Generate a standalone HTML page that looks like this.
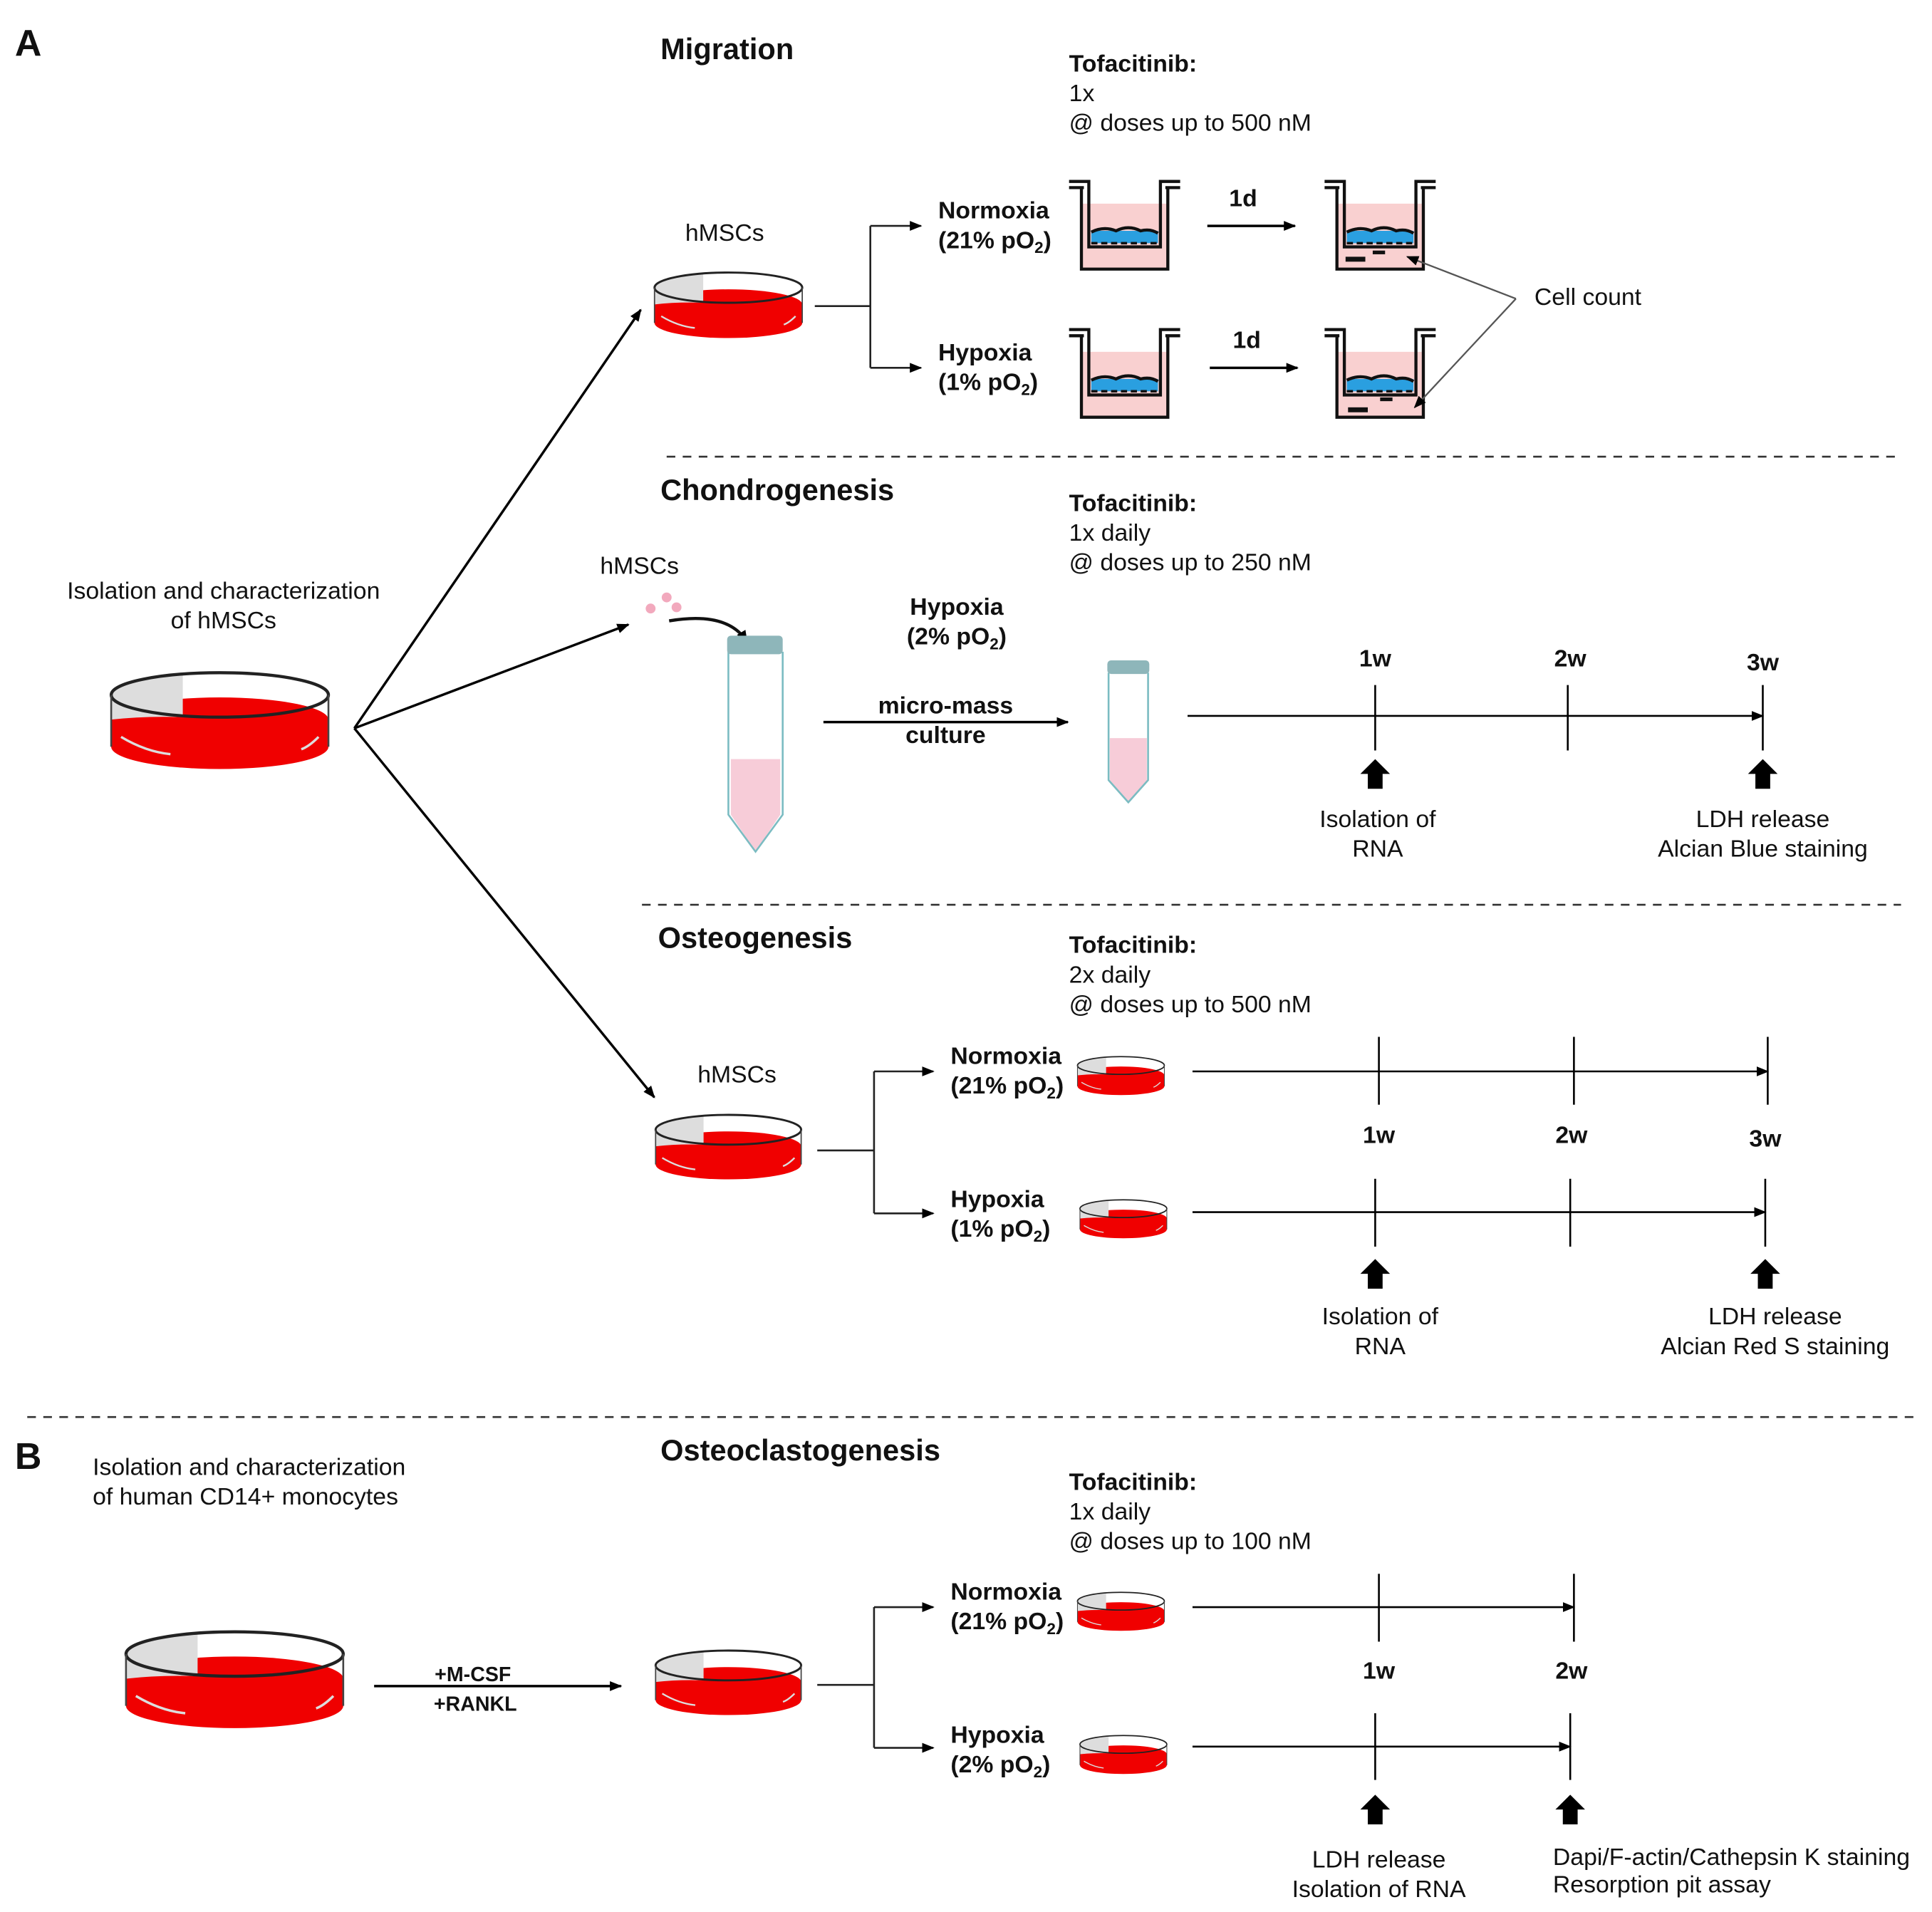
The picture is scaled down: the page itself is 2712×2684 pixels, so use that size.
<!DOCTYPE html>
<html><head><meta charset="utf-8"><style>
html,body{margin:0;padding:0;background:#fff;}
svg{display:block;}
text{font-family:"Liberation Sans",Arial,sans-serif;fill:#111;}
.b{font-weight:bold;}
.h{font-size:24px;font-weight:bold;}
.t{font-size:19.5px;}
</style></head><body>
<svg width="2712" height="2684" viewBox="0 0 1565 1549" xmlns="http://www.w3.org/2000/svg">
<defs>
<marker id="ar" markerWidth="10" markerHeight="10" refX="9" refY="5" orient="auto" markerUnits="userSpaceOnUse"><path d="M0,1 L10,5 L0,9 Z" fill="#000"/></marker>
<g id="dish">
 <path d="M-88,-2 A88 18 0 0 1 88,-2 L88,20 A88 18 0 0 1 -88,20 Z" fill="#f00000"/>
 <path d="M-88,-22 A88 18 0 0 1 -30,-39 L-30,-4 A88 18 0 0 0 -88,-2 Z" fill="#ddd"/>
 <ellipse cx="0" cy="-22" rx="88" ry="18" fill="none" stroke="#222" stroke-width="2.5"/>
 <path d="M-88,-22 V20 M88,-22 V20" stroke="#444" stroke-width="1.5"/>
 <path d="M-80,12 Q-60,24 -40,26 M80,12 Q72,20 66,22" stroke="#ddd" stroke-width="2" fill="none"/>
</g>
<g id="tw">
 <path d="M6,20 V73 H76 V20 Z" fill="#f9d0d0"/>
 <rect x="14" y="42" width="54" height="10" fill="#2a9fe0"/>
 <path d="M6,8 V73 H76 V8" fill="none" stroke="#111" stroke-width="2.5"/>
 <path d="M-4,2 H12 V55 H70 V2 H86 M-4,7 H8 M74,7 H86" fill="none" stroke="#111" stroke-width="2.5"/>
 <path d="M14,52 H68" stroke="#111" stroke-width="2" stroke-dasharray="5,3"/>
 <path d="M14,43 Q24,38 34,42 Q44,37 54,42 Q62,40 68,44" stroke="#111" stroke-width="2.5" fill="none"/>
</g>
<g id="up"><path d="M0,0 L-12,12 L-6,12 L-6,24 L6,24 L6,12 L12,12 Z" fill="#000"/></g>
</defs>

<text x="12" y="45" style="font-size:30px" class="b">A</text>
<text x="12" y="1190" style="font-size:30px" class="b">B</text>

<text x="535" y="48" class="h">Migration</text>
<text x="535" y="405" class="h">Chondrogenesis</text>
<text x="533" y="768" class="h">Osteogenesis</text>
<text x="535" y="1183" class="h">Osteoclastogenesis</text>

<g class="t">
<text x="866" y="58" class="b">Tofacitinib:</text><text x="866" y="82">1x</text><text x="866" y="106">@ doses up to 500 nM</text>
<text x="866" y="414" class="b">Tofacitinib:</text><text x="866" y="438">1x daily</text><text x="866" y="462">@ doses up to 250 nM</text>
<text x="866" y="772" class="b">Tofacitinib:</text><text x="866" y="796">2x daily</text><text x="866" y="820">@ doses up to 500 nM</text>
<text x="866" y="1207" class="b">Tofacitinib:</text><text x="866" y="1231">1x daily</text><text x="866" y="1255">@ doses up to 100 nM</text>
</g>

<g stroke="#333" stroke-width="1.5" stroke-dasharray="7,6">
<line x1="540" y1="370" x2="1540" y2="370"/><line x1="520" y1="733" x2="1540" y2="733"/><line x1="22" y1="1148" x2="1552" y2="1148"/>
</g>

<text x="181" y="485" class="t" text-anchor="middle">Isolation and characterization</text>
<text x="181" y="509" class="t" text-anchor="middle">of hMSCs</text>
<use href="#dish" transform="translate(178,585)"/>
<g stroke="#000" stroke-width="2" marker-end="url(#ar)">
<line x1="287" y1="590" x2="519" y2="251"/>
<line x1="287" y1="590" x2="509" y2="506"/>
<line x1="287" y1="590" x2="530" y2="889"/>
</g>

<text x="587" y="195" class="t" text-anchor="middle">hMSCs</text>
<use href="#dish" transform="translate(590,248) scale(0.68)"/>
<g stroke="#222" stroke-width="1.5" fill="none"><path d="M660,248 H705 M705,183 V298"/></g>
<g stroke="#222" stroke-width="1.5" marker-end="url(#ar)"><line x1="705" y1="183" x2="746" y2="183"/><line x1="705" y1="298" x2="746" y2="298"/></g>
<text x="760" y="177" class="t b">Normoxia</text><text x="760" y="201" class="t b">(21% pO<tspan style="font-size:13px" dy="4">2</tspan><tspan dy="-4">)</tspan></text>
<text x="760" y="292" class="t b">Hypoxia</text><text x="760" y="316" class="t b">(1% pO<tspan style="font-size:13px" dy="4">2</tspan><tspan dy="-4">)</tspan></text>
<use href="#tw" transform="translate(870,145)"/>
<use href="#tw" transform="translate(1077,145)"/>
<use href="#tw" transform="translate(870,265)"/>
<use href="#tw" transform="translate(1077,265)"/>
<g fill="#111"><rect x="1090" y="208" width="16" height="4"/><rect x="1112" y="203" width="10" height="3"/><rect x="1092" y="330" width="16" height="4"/><rect x="1118" y="322" width="10" height="3"/></g>
<g stroke="#000" stroke-width="2" marker-end="url(#ar)"><line x1="978" y1="183" x2="1049" y2="183"/><line x1="980" y1="298" x2="1051" y2="298"/></g>
<text x="1007" y="167" class="t b" text-anchor="middle">1d</text><text x="1010" y="282" class="t b" text-anchor="middle">1d</text>
<text x="1243" y="247" class="t">Cell count</text>
<g stroke="#555" stroke-width="1.3" marker-end="url(#ar)"><line x1="1228" y1="242" x2="1140" y2="208"/><line x1="1228" y1="242" x2="1146" y2="330"/></g>

<text x="518" y="465" class="t" text-anchor="middle">hMSCs</text>
<g fill="#f2a9bd"><circle cx="527" cy="493" r="4"/><circle cx="540" cy="484" r="4"/><circle cx="548" cy="492" r="4"/></g>
<path d="M542,503 Q590,495 605,520" stroke="#111" stroke-width="2.5" fill="none" marker-end="url(#ar)"/>
<path d="M592,615 H632 V660 L612,690 L592,660 Z" fill="#f7ccd8"/>
<path d="M590,528 V660 L612,690 L634,660 V528" fill="none" stroke="#7bbcc2" stroke-width="1.5"/>
<rect x="589" y="515" width="45" height="15" rx="3" fill="#8eb6ba"/>
<path d="M899,598 H929 V632 L914,650 L899,632 Z" fill="#f7ccd8"/>
<path d="M898,545 V632 L914,650 L930,632 V545" fill="none" stroke="#7bbcc2" stroke-width="1.5"/>
<rect x="897" y="535" width="34" height="11" rx="3" fill="#8eb6ba"/>
<text x="775" y="498" class="t b" text-anchor="middle">Hypoxia</text>
<text x="775" y="522" class="t b" text-anchor="middle">(2% pO<tspan style="font-size:13px" dy="4">2</tspan><tspan dy="-4">)</tspan></text>
<line x1="667" y1="585" x2="865" y2="585" stroke="#000" stroke-width="2" marker-end="url(#ar)"/>
<text x="766" y="578" class="t b" text-anchor="middle">micro-mass</text><text x="766" y="602" class="t b" text-anchor="middle">culture</text>
<line x1="962" y1="580" x2="1428" y2="580" stroke="#000" stroke-width="1.5" marker-end="url(#ar)"/>
<g stroke="#000" stroke-width="1.5"><line x1="1114" y1="555" x2="1114" y2="608"/><line x1="1270" y1="555" x2="1270" y2="608"/><line x1="1428" y1="555" x2="1428" y2="608"/></g>
<text x="1114" y="540" class="t b" text-anchor="middle">1w</text><text x="1272" y="540" class="t b" text-anchor="middle">2w</text><text x="1428" y="543" class="t b" text-anchor="middle">3w</text>
<use href="#up" transform="translate(1114,615)"/><use href="#up" transform="translate(1428,615)"/>
<text x="1116" y="670" class="t" text-anchor="middle">Isolation of</text><text x="1116" y="694" class="t" text-anchor="middle">RNA</text>
<text x="1428" y="670" class="t" text-anchor="middle">LDH release</text><text x="1428" y="694" class="t" text-anchor="middle">Alcian Blue staining</text>

<text x="597" y="877" class="t" text-anchor="middle">hMSCs</text>
<use href="#dish" transform="translate(590,930) scale(0.67)"/>
<g stroke="#222" stroke-width="1.5" fill="none"><path d="M662,932 H708 M708,868 V983"/></g>
<g stroke="#222" stroke-width="1.5" marker-end="url(#ar)"><line x1="708" y1="868" x2="756" y2="868"/><line x1="708" y1="983" x2="756" y2="983"/></g>
<text x="770" y="862" class="t b">Normoxia</text><text x="770" y="886" class="t b">(21% pO<tspan style="font-size:13px" dy="4">2</tspan><tspan dy="-4">)</tspan></text>
<text x="770" y="978" class="t b">Hypoxia</text><text x="770" y="1002" class="t b">(1% pO<tspan style="font-size:13px" dy="4">2</tspan><tspan dy="-4">)</tspan></text>
<use href="#dish" transform="translate(908,872) scale(0.4)"/>
<use href="#dish" transform="translate(910,988) scale(0.4)"/>
<g stroke="#000" stroke-width="1.5" marker-end="url(#ar)"><line x1="966" y1="868" x2="1432" y2="868"/><line x1="966" y1="982" x2="1430" y2="982"/></g>
<g stroke="#000" stroke-width="1.5"><line x1="1117" y1="840" x2="1117" y2="895"/><line x1="1275" y1="840" x2="1275" y2="895"/><line x1="1432" y1="840" x2="1432" y2="895"/>
<line x1="1114" y1="955" x2="1114" y2="1010"/><line x1="1272" y1="955" x2="1272" y2="1010"/><line x1="1430" y1="955" x2="1430" y2="1010"/></g>
<text x="1117" y="926" class="t b" text-anchor="middle">1w</text><text x="1273" y="926" class="t b" text-anchor="middle">2w</text><text x="1430" y="929" class="t b" text-anchor="middle">3w</text>
<use href="#up" transform="translate(1114,1020)"/><use href="#up" transform="translate(1430,1020)"/>
<text x="1118" y="1073" class="t" text-anchor="middle">Isolation of</text><text x="1118" y="1097" class="t" text-anchor="middle">RNA</text>
<text x="1438" y="1073" class="t" text-anchor="middle">LDH release</text><text x="1438" y="1097" class="t" text-anchor="middle">Alcian Red S staining</text>

<text x="75" y="1195" class="t">Isolation and characterization</text>
<text x="75" y="1219" class="t">of human CD14+ monocytes</text>
<use href="#dish" transform="translate(190,1362)"/>
<line x1="303" y1="1366" x2="503" y2="1366" stroke="#000" stroke-width="2" marker-end="url(#ar)"/>
<text x="383" y="1362" class="b" style="font-size:16.5px" text-anchor="middle">+M-CSF</text>
<text x="385" y="1386" class="b" style="font-size:16.5px" text-anchor="middle">+RANKL</text>
<use href="#dish" transform="translate(590,1364) scale(0.67)"/>
<g stroke="#222" stroke-width="1.5" fill="none"><path d="M662,1365 H708 M708,1302 V1416"/></g>
<g stroke="#222" stroke-width="1.5" marker-end="url(#ar)"><line x1="708" y1="1302" x2="756" y2="1302"/><line x1="708" y1="1416" x2="756" y2="1416"/></g>
<text x="770" y="1296" class="t b">Normoxia</text><text x="770" y="1320" class="t b">(21% pO<tspan style="font-size:13px" dy="4">2</tspan><tspan dy="-4">)</tspan></text>
<text x="770" y="1412" class="t b">Hypoxia</text><text x="770" y="1436" class="t b">(2% pO<tspan style="font-size:13px" dy="4">2</tspan><tspan dy="-4">)</tspan></text>
<use href="#dish" transform="translate(908,1306) scale(0.4)"/>
<use href="#dish" transform="translate(910,1422) scale(0.4)"/>
<g stroke="#000" stroke-width="1.5" marker-end="url(#ar)"><line x1="966" y1="1302" x2="1275" y2="1302"/><line x1="966" y1="1415" x2="1272" y2="1415"/></g>
<g stroke="#000" stroke-width="1.5"><line x1="1117" y1="1275" x2="1117" y2="1330"/><line x1="1275" y1="1275" x2="1275" y2="1330"/>
<line x1="1114" y1="1388" x2="1114" y2="1442"/><line x1="1272" y1="1388" x2="1272" y2="1442"/></g>
<text x="1117" y="1360" class="t b" text-anchor="middle">1w</text><text x="1273" y="1360" class="t b" text-anchor="middle">2w</text>
<use href="#up" transform="translate(1114,1454)"/><use href="#up" transform="translate(1272,1454)"/>
<text x="1117" y="1513" class="t" text-anchor="middle">LDH release</text><text x="1117" y="1537" class="t" text-anchor="middle">Isolation of RNA</text>
<text x="1258" y="1511" class="t">Dapi/F-actin/Cathepsin K staining</text>
<text x="1258" y="1533" class="t">Resorption pit assay</text>
</svg>
</body></html>
